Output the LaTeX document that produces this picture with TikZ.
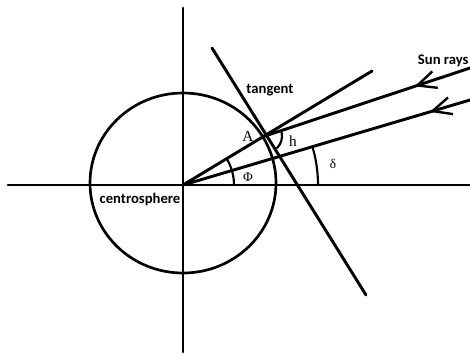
\documentclass[tikz,border=0pt]{standalone}
\usepackage{fontspec}
\setmainfont{Liberation Serif}
\newfontfamily\lblfont{Carlito}
\usetikzlibrary{arrows.meta,decorations.markings}
\begin{document}
\begin{tikzpicture}[x=0.75pt,y=-0.75pt,line width=2.2pt,line cap=round,
  lbl/.style={font=\lblfont\bfseries\fontsize{11}{13}\selectfont,inner sep=0pt},
  sym/.style={font=\fontsize{11.5}{13}\selectfont,inner sep=0pt},
  anglearc/.style={line width=1.6pt},
  sunray/.style={postaction={decorate},decoration={markings,
    mark=at position #1 with {\arrow{Straight Barb[length=14pt,width=13pt,line width=1.8pt]}}}}]
\useasboundingbox (0,0) rectangle (470,354);
% points
\coordinate (O) at (183,185);
\coordinate (xl) at (8,185);
\coordinate (xr) at (470,185);
\coordinate (yt) at (183,8);
\coordinate (yb) at (183,352);
\coordinate (C) at (183,183);
\coordinate (T1) at (212,48);
\coordinate (T2) at (366,295);
\coordinate (Aend) at (372,71);
\coordinate (A) at (265,136);
\coordinate (S1) at (470,68);
\coordinate (S2) at (470,100);
% axes
\draw (xl) -- (xr);
\draw (yt) -- (yb);
% sphere
\draw[line width=2pt] (C) ellipse [x radius=69.75pt, y radius=67.5pt];
% tangent
\draw (T1) -- (T2);
% radius through A
\draw (O) -- (Aend);
% sun rays
\draw[sunray=0.27] (S1) -- (A);
\draw[sunray=0.14] (S2) -- (O);
% angle arcs
\draw[anglearc] (O) ++(51,0) arc[start angle=0,end angle=31,radius=38.25pt];
\draw[anglearc] (O) ++(135,0) arc[start angle=0,end angle=16.5,radius=101.25pt];
\draw[anglearc] (A) ++(12:12.75pt) arc[start angle=12,end angle=-45,radius=12.75pt];
% labels
\node[lbl] (tangentlbl) at (270,90) {tangent};
\node[lbl,anchor=east] (sunlbl) at (470,61) {Sun rays};
\node[lbl] (centrolbl) at (140,199) {centrosphere};
\node[sym] (Albl) at (248,136) {A};
\node[sym] (hlbl) at (293,141) {h};
\node[sym,font=\fontsize{10}{12}\selectfont] (philbl) at (248,177) {Φ};
\node[sym,font=\fontsize{10}{12}\selectfont] (deltalbl) at (333,164) {δ};
\end{tikzpicture}
\end{document}
